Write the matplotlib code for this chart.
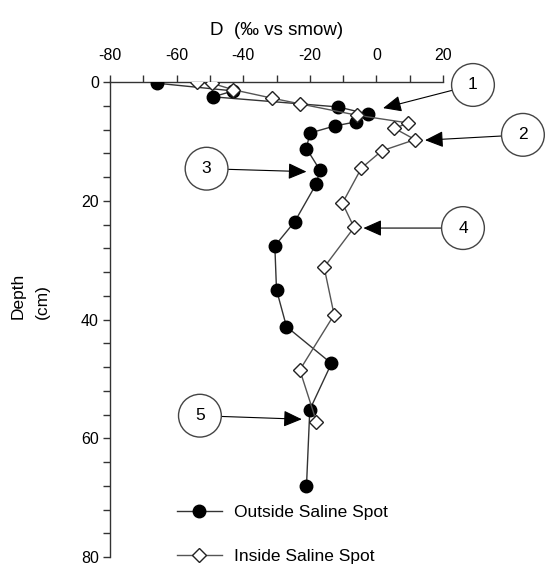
import matplotlib
matplotlib.use('Agg')
import matplotlib.pyplot as plt
from matplotlib.ticker import MultipleLocator

plt.rcParams['font.family'] = ['Liberation Sans', 'DejaVu Sans']
plt.rcParams['axes.unicode_minus'] = False

# outside saline spot (filled circles)
out_d = [-66, -43, -49, -11.5, -2.5, -6, -12.5, -20, -21, -17, -18, -24.5, -30.5, -30, -27, -13.5, -20, -21]
out_depth = [0.2, 1.5, 2.5, 4.2, 5.4, 6.7, 7.4, 8.6, 11.2, 14.8, 17.1, 23.5, 27.6, 35, 41.2, 47.4, 55.2, 68.1]

# inside saline spot (open diamonds)
in_d = [-54, -49.5, -43, -31.5, -22.8, -5.8, 9.6, 5.4, 11.6, 1.6, -4.5, -10.2, -6.7, -15.7, -12.7, -23, -18]
in_depth = [0, 0.2, 1.3, 2.7, 3.7, 5.6, 6.9, 7.8, 9.7, 11.6, 14.5, 20.4, 24.5, 31.2, 39.2, 48.5, 57.2]

# numbered callouts
labels = ['1', '2', '3', '4', '5']
circle_xy = [(29, 0.5), (44, 8.9), (-51, 14.6), (26, 24.6), (-53, 56.2)]
arrow_xy = [(2, 4.4), (14.6, 9.8), (-21, 15.1), (-3.9, 24.6), (-22.4, 56.8)]

fig = plt.figure(figsize=(5.46, 5.65), dpi=100)
ax = fig.add_axes([110 / 546, 1 - 557 / 565, 333 / 546, 475 / 565])

ax.plot(out_d, out_depth, color='#333333', lw=1, marker='o', ms=9,
        mfc='black', mec='black', label='Outside Saline Spot', zorder=3)
ax.plot(in_d, in_depth, color='#555555', lw=1, marker='D', ms=7.5,
        mfc='white', mec='#222222', mew=1, label='Inside Saline Spot', zorder=4)

for lab, cxy, axy in zip(labels, circle_xy, arrow_xy):
    ax.annotate(lab, xy=axy, xytext=cxy, fontsize=12.5, ha='center', va='center',
                annotation_clip=False,
                bbox=dict(boxstyle='circle,pad=0.8', fc='white', ec='#444444', lw=1),
                arrowprops=dict(arrowstyle='-|>,head_length=0.9,head_width=0.4',
                                color='black', lw=0.8, shrinkA=0, shrinkB=0),
                zorder=6)

ax.set_xlim(-80, 20)
ax.set_ylim(80, 0)
ax.xaxis.set_major_locator(MultipleLocator(20))
ax.xaxis.set_minor_locator(MultipleLocator(10))
ax.yaxis.set_major_locator(MultipleLocator(20))
ax.yaxis.set_minor_locator(MultipleLocator(4))

ax.xaxis.tick_top()
ax.xaxis.set_label_position('top')
ax.spines['right'].set_visible(False)
ax.spines['bottom'].set_visible(False)
for s in ['top', 'left']:
    ax.spines[s].set_color('#333333')
    ax.spines[s].set_linewidth(1)
ax.tick_params(which='both', direction='out', length=5, width=1, color='#333333',
               labelsize=11.5, pad=3)
ax.tick_params(axis='x', which='both', top=True, bottom=False, pad=9)

ax.set_xlabel('D  (‰ vs smow)', fontsize=13.5, labelpad=9)
ax.set_ylabel('Depth\n(cm)', fontsize=12.5, linespacing=1.75, multialignment='left')
ax.yaxis.set_label_coords(-0.18, 0.55)

ax.legend(loc='upper left', bbox_to_anchor=(0.2, 0.11), frameon=False,
          fontsize=12.5, handlelength=2.6, handletextpad=0.7, labelspacing=1.65,
          borderpad=0, borderaxespad=0)

fig.savefig('out.png', dpi=100)
